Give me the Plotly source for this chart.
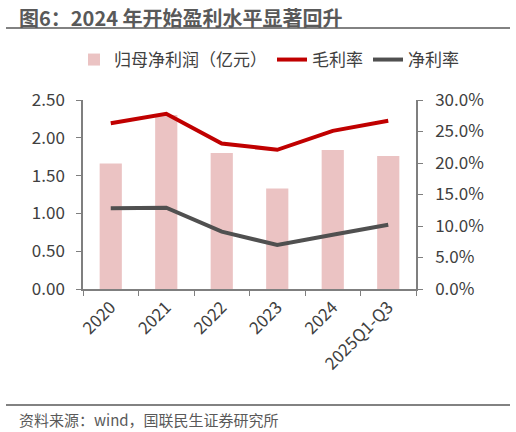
import plotly.graph_objects as go

years = ['2020', '2021', '2022', '2023', '2024', '2025Q1-Q3']
net_profit = [1.66, 2.30, 1.80, 1.33, 1.84, 1.76]        # 归母净利润（亿元）
gross_margin = [0.263, 0.278, 0.231, 0.221, 0.251, 0.267]  # 毛利率
net_margin = [0.128, 0.129, 0.091, 0.070, 0.086, 0.102]    # 净利率

font_cn = 'Noto Sans CJK SC'
txt = '#404040'
axis_col = '#7f7f7f'

fig = go.Figure()
fig.add_trace(go.Bar(x=years, y=net_profit, name='归母净利润（亿元）',
                     marker=dict(color='#EBC3C3', line=dict(width=0)), width=0.4))
fig.add_trace(go.Scatter(x=years, y=gross_margin, name='毛利率', yaxis='y2', mode='lines',
                         line=dict(color='#C00000', width=4)))
fig.add_trace(go.Scatter(x=years, y=net_margin, name='净利率', yaxis='y2', mode='lines',
                         line=dict(color='#505050', width=4)))

fig.update_layout(
    width=516, height=432,
    margin=dict(l=83, r=100, t=100, b=143, autoexpand=False),
    paper_bgcolor='white', plot_bgcolor='white',
    font=dict(family=font_cn, size=17, color=txt),
    showlegend=True,
    legend=dict(orientation='h', x=(464 - 83)/333, xanchor='right',
                y=1 + (100 - 60)/189, yanchor='middle', font=dict(size=17, color=txt),
                traceorder='normal', bgcolor='rgba(0,0,0,0)'),
    xaxis=dict(type='category', tickson='boundaries', ticks='outside', ticklen=5,
               tickcolor=axis_col, showline=True, linecolor=axis_col, linewidth=1.5,
               tickangle=-45, showgrid=False, tickfont=dict(size=17, color=txt)),
    yaxis=dict(range=[0, 2.5], dtick=0.5, tickformat='.2f', ticks='outside', ticklen=5,
               tickcolor=axis_col, showline=True, linecolor=axis_col, linewidth=1.5,
               ticklabelstandoff=8,
               showgrid=False, zeroline=False, tickfont=dict(size=17, color=txt)),
    yaxis2=dict(range=[0, 0.30], dtick=0.05, tickformat='.1%', overlaying='y', side='right',
                ticks='outside', ticklen=5, tickcolor=axis_col, showline=True,
                linecolor=axis_col, linewidth=1.5, showgrid=False, zeroline=False,
                ticklabelstandoff=9, tickfont=dict(size=17, color=txt)),
    bargap=0.6,
)

# title and source
fig.add_annotation(text='<b>图6：2024 年开始盈利水平显著回升</b>', xref='paper', yref='paper',
                   x=-66/333, y=1 + (100 - 18)/189, xanchor='left', yanchor='middle',
                   showarrow=False, font=dict(size=20, color='#595959', family=font_cn))
fig.add_annotation(text='资料来源：wind，国联民生证券研究所', xref='paper', yref='paper',
                   x=-66/333, y=-(419 - 289)/189, xanchor='left', yanchor='middle',
                   showarrow=False, font=dict(size=15, color='#595959', family=font_cn))
fig.add_shape(type='line', xref='paper', yref='paper', x0=-77/333, x1=(510 - 83)/333,
              y0=1 + (100 - 28)/189, y1=1 + (100 - 28)/189, line=dict(color='#595959', width=1.5))
fig.add_shape(type='line', xref='paper', yref='paper', x0=-77/333, x1=(510 - 83)/333,
              y0=-(405 - 289)/189, y1=-(405 - 289)/189, line=dict(color='#595959', width=1.5))

# drop the page's default 8px body margin so the figure fills the window
fig.write_html('out.html', config={'displayModeBar': False},
               post_script="document.body.style.margin='0';")
